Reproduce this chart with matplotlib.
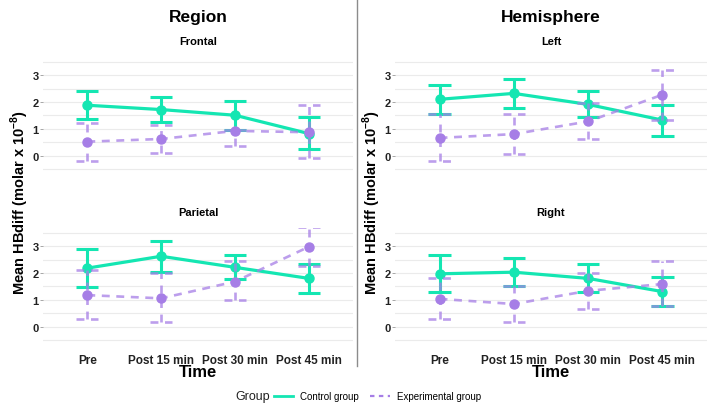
import matplotlib
matplotlib.use('Agg')
import matplotlib.pyplot as plt
from matplotlib.lines import Line2D

plt.rcParams['font.family'] = ['Liberation Sans', 'DejaVu Sans']
plt.rcParams['mathtext.fontset'] = 'custom'
plt.rcParams['mathtext.rm'] = 'Liberation Sans'
plt.rcParams['mathtext.bf'] = 'Liberation Sans:bold'

times = ['Pre', 'Post 15 min', 'Post 30 min', 'Post 45 min']

# control group: mean, lower, upper
frontal_ctrl = [1.88, 1.72, 1.51, 0.83]
frontal_ctrl_lo = [1.37, 1.25, 0.97, 0.27]
frontal_ctrl_hi = [2.40, 2.20, 2.05, 1.43]
frontal_exp = [0.53, 0.63, 0.93, 0.88]
frontal_exp_lo = [-0.17, 0.12, 0.38, -0.08]
frontal_exp_hi = [1.22, 1.15, 0.97, 1.88]

parietal_ctrl = [2.18, 2.62, 2.21, 1.80]
parietal_ctrl_lo = [1.48, 2.05, 1.78, 1.27]
parietal_ctrl_hi = [2.88, 3.20, 2.68, 2.33]
parietal_exp = [1.18, 1.06, 1.68, 2.97]
parietal_exp_lo = [0.28, 0.18, 1.00, 2.25]
parietal_exp_hi = [2.12, 2.00, 2.45, 3.72]

left_ctrl = [2.10, 2.32, 1.91, 1.33]
left_ctrl_lo = [1.57, 1.77, 1.43, 0.73]
left_ctrl_hi = [2.62, 2.87, 2.42, 1.90]
left_exp = [0.67, 0.81, 1.28, 2.27]
left_exp_lo = [-0.18, 0.08, 0.63, 1.35]
left_exp_hi = [1.55, 1.57, 1.95, 3.20]

right_ctrl = [1.97, 2.03, 1.80, 1.31]
right_ctrl_lo = [1.28, 1.52, 1.30, 0.78]
right_ctrl_hi = [2.65, 2.55, 2.33, 1.85]
right_exp = [1.04, 0.85, 1.34, 1.59]
right_exp_lo = [0.30, 0.17, 0.68, 0.78]
right_exp_hi = [1.82, 1.53, 2.00, 2.45]

green = '#14e6b2'
purple = '#a67ee6'
dash = (0, (3, 2.5))

fig = plt.figure(figsize=(7.23, 4.14), dpi=100)


def panel(rect, ctrl, clo, chi, exp, elo, ehi, title, show_x):
    ax = fig.add_axes(rect)
    x = list(range(1, len(times) + 1))
    xl = [i - 0.15 for i in x]
    xr = [i + 0.15 for i in x]
    # control
    ax.vlines(x, clo, chi, color=green, lw=2.2, zorder=3)
    ax.hlines(clo, xl, xr, color=green, lw=2.2, zorder=3)
    ax.hlines(chi, xl, xr, color=green, lw=2.2, zorder=3)
    ax.plot(x, ctrl, color=green, lw=2.3, marker='o', ms=6.5, zorder=4)
    # experimental
    ax.vlines(x, elo, ehi, color=purple, lw=1.9, linestyles=dash, alpha=0.75, zorder=5)
    ax.hlines(elo, xl, xr, color=purple, lw=1.9, linestyles=dash, alpha=0.75, zorder=5)
    ax.hlines(ehi, xl, xr, color=purple, lw=1.9, linestyles=dash, alpha=0.75, zorder=5)
    ax.plot(x, exp, color=purple, lw=1.9, ls=dash, alpha=0.75, zorder=5)
    ax.plot(x, exp, ls='none', marker='o', ms=6.5, color=purple, zorder=6)

    ax.set_xlim(0.4, 4.6)
    ax.set_ylim(-0.65, 3.65)
    ax.set_yticks([0, 1, 2, 3])
    ax.set_yticks([-0.5, 0.5, 1.5, 2.5, 3.5], minor=True)
    ax.grid(True, axis='y', which='both', color='#ebebeb', lw=0.8, zorder=0)
    ax.set_axisbelow(True)
    for s in ax.spines.values():
        s.set_visible(False)
    ax.tick_params(axis='y', which='major', length=2, width=0.6, color='#999999', labelsize=8, pad=1)
    ax.tick_params(axis='y', which='minor', length=0)
    for lab in ax.get_yticklabels():
        lab.set_fontweight('bold')
        lab.set_color('#222222')
    ax.set_xticks(x)
    if show_x:
        ax.set_xticklabels(times, fontsize=8.5, fontweight='bold', color='#222222')
        ax.tick_params(axis='x', length=0, pad=7)
    else:
        ax.set_xticklabels([])
        ax.tick_params(axis='x', length=0)
    ax.set_title(title, fontsize=8, fontweight='bold', pad=10)
    return ax


top_b, top_h = 0.5785, 0.2802
bot_b = 0.1655
lx, lw_ = 0.0595, 0.4288
rx, rw = 0.5463, 0.4315

panel([lx, top_b, lw_, top_h], frontal_ctrl, frontal_ctrl_lo, frontal_ctrl_hi,
      frontal_exp, frontal_exp_lo, frontal_exp_hi, 'Frontal', False)
panel([lx, bot_b, lw_, top_h], parietal_ctrl, parietal_ctrl_lo, parietal_ctrl_hi,
      parietal_exp, parietal_exp_lo, parietal_exp_hi, 'Parietal', True)
panel([rx, top_b, rw, top_h], left_ctrl, left_ctrl_lo, left_ctrl_hi,
      left_exp, left_exp_lo, left_exp_hi, 'Left', False)
panel([rx, bot_b, rw, top_h], right_ctrl, right_ctrl_lo, right_ctrl_hi,
      right_exp, right_exp_lo, right_exp_hi, 'Right', True)

fig.text(0.274, 0.957, 'Region', fontsize=12.5, fontweight='bold', ha='center', va='center')
fig.text(0.762, 0.957, 'Hemisphere', fontsize=12.5, fontweight='bold', ha='center', va='center')

ylab = 'Mean HBdiff (molar x 10$^{\\mathbf{-8}}$)'
fig.text(0.0277, 0.512, ylab, rotation=90, fontsize=10.5, fontweight='bold', ha='center', va='center')
fig.text(0.5145, 0.512, ylab, rotation=90, fontsize=10.5, fontweight='bold', ha='center', va='center')
fig.text(0.274, 0.101, 'Time', fontsize=12, fontweight='bold', ha='center', va='center')
fig.text(0.762, 0.101, 'Time', fontsize=12, fontweight='bold', ha='center', va='center')

fig.add_artist(Line2D([357 / 723, 357 / 723], [1.0, 1 - 367 / 414], color='#8c8c8c', lw=1))

fig.text(235 / 723, 0.041, 'Group', fontsize=9, ha='left', va='center', color='#222222')
handles = [Line2D([], [], color=green, lw=2),
           Line2D([], [], color=purple, lw=1.6, ls=(0, (2, 2)))]
fig.legend(handles, ['Control group', 'Experimental group'], ncol=2, loc='center left',
           bbox_to_anchor=(265 / 723, 0.041), frameon=False, fontsize=7, handlelength=2,
           columnspacing=1.2, handletextpad=0.7)

fig.savefig('out.png', dpi=100)
